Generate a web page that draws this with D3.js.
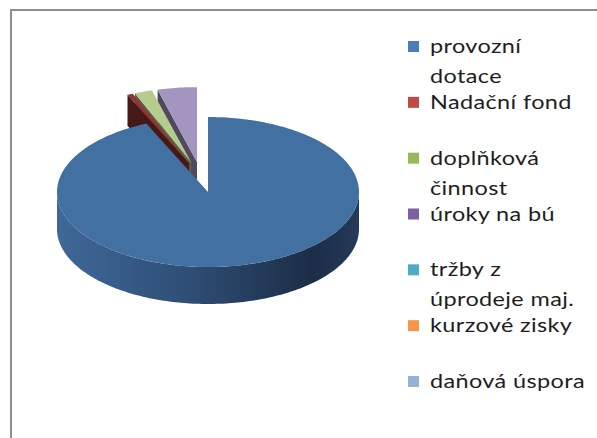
<!DOCTYPE html>
<html lang="en">
<head>
    <meta charset="UTF-8">
    <title>Zdroje příjmů</title>
    <script src="https://d3js.org/d3.v7.min.js"></script>
    <style>
        body { margin: 0; background: #fff; }
    </style>
</head>
<body>
    <script>
        // DATA (in %; the last three are too small to see)
        var categories = ["provozní dotace", "Nadační fond", "doplňková činnost", "úroky na bú",
                          "tržby z úprodeje maj.", "kurzové zisky", "daňová úspora"];
        var values = [93.3, 0.6, 1.9, 4.2, 0, 0, 0];
        // how the legend wraps the labels
        var legendLines = [["provozní", "dotace"], ["Nadační fond"], ["doplňková", "činnost"], ["úroky na bú"],
                           ["tržby z", "úprodeje maj."], ["kurzové zisky"], ["daňová úspora"]];

        // styles
        var legendColors = ["#4a7ebb", "#be4b48", "#98b954", "#7d60a0", "#4bacc6", "#f79646", "#95b3d7"];
        var topColors = ["#4270a1", "#8e3431", "#b6cc8e", "#a395c0", "#5fb3c9", "#f0a060", "#a9bfdc"];
        var exploded = [false, true, true, true, true, true, true];

        var width = 597, height = 438;
        var cx = 208, cy = 192, rx = 151, ry = 75, depth = 37;
        // pulled-out slices: a shared shift plus a radial push;
        // they sit further back, so they look a bit thinner
        var explodeBase = [-7, -15], explodeRadial = 0.2, explodeDepth = 31;

        var svg = d3.select("body").append("svg")
            .attr("width", width)
            .attr("height", height);

        // chart frame (cut by the picture edges on right and bottom)
        svg.append("rect")
            .attr("x", 11).attr("y", 10)
            .attr("width", width + 20).attr("height", height + 20)
            .attr("fill", "none")
            .attr("stroke", "#8e8e8e")
            .attr("stroke-width", 2);

        var defs = svg.append("defs");
        var grad = defs.append("linearGradient")
            .attr("id", "sideGrad")
            .attr("gradientUnits", "userSpaceOnUse")
            .attr("x1", cx - rx).attr("x2", cx + rx)
            .attr("y1", 0).attr("y2", 0);
        grad.selectAll("stop")
            .data([[0, "#3f6898"], [0.45, "#2d4d74"], [0.85, "#1c2d46"], [1, "#25395a"]])
            .enter().append("stop")
            .attr("offset", function(d) { return d[0]; })
            .attr("stop-color", function(d) { return d[1]; });

        var pie = d3.pie().sort(null).startAngle(0).endAngle(2 * Math.PI);
        var arcs = pie(values);

        var line = d3.line();

        // point on the ellipse, angle clockwise from 12 o'clock
        function pt(a, off, z) {
            return [cx + rx * Math.sin(a) + off[0], cy - ry * Math.cos(a) + off[1] + z];
        }

        function arcPoints(a0, a1, off, z) {
            var n = Math.max(2, Math.ceil(Math.abs(a1 - a0) / 0.02));
            return d3.range(n + 1).map(function(i) {
                return pt(a0 + (a1 - a0) * i / n, off, z);
            });
        }

        function center(off, z) {
            return [cx + off[0], cy + off[1] + z];
        }

        var pieG = svg.append("g");

        // small slices first, from the back one forward; the big one last
        var order = d3.range(values.length - 1, 0, -1).concat([0]);

        order.forEach(function(i) {
            var d = arcs[i];
            if (d.endAngle - d.startAngle <= 0) return;
            var a0 = d.startAngle, a1 = d.endAngle, mid = (a0 + a1) / 2;
            var off = exploded[i]
                ? [explodeBase[0] + explodeRadial * rx * Math.sin(mid),
                   explodeBase[1] - explodeRadial * ry * Math.cos(mid)]
                : [0, 0];
            var h = exploded[i] ? explodeDepth : depth;
            var wall = d3.color(topColors[i]).darker(2).formatHex();

            // start wall, visible when it faces the viewer
            if (Math.sin(a0) < -0.001) {
                pieG.append("path")
                    .attr("d", line([center(off, 0), pt(a0, off, 0), pt(a0, off, h), center(off, h)]) + "Z")
                    .attr("fill", wall);
            }
            // end wall
            if (Math.sin(a1) > 0.001) {
                pieG.append("path")
                    .attr("d", line([center(off, 0), pt(a1, off, 0), pt(a1, off, h), center(off, h)]) + "Z")
                    .attr("fill", wall);
            }
            // outer wall, front half only
            var s0 = Math.max(a0, Math.PI / 2), s1 = Math.min(a1, 3 * Math.PI / 2);
            if (s1 > s0) {
                var pts = arcPoints(s0, s1, off, 0).concat(arcPoints(s1, s0, off, h));
                pieG.append("path")
                    .attr("d", line(pts) + "Z")
                    .attr("fill", i === 0 ? "url(#sideGrad)" : wall);
            }
            // top
            pieG.append("path")
                .attr("d", line([center(off, 0)].concat(arcPoints(a0, a1, off, 0))) + "Z")
                .attr("fill", topColors[i]);
        });

        // LEGEND
        var legY = d3.scaleLinear().domain([0, categories.length - 1]).range([46, 381]);
        var lineGap = 30;

        var leg = svg.append("g").attr("class", "legend");
        var items = leg.selectAll("g")
            .data(categories)
            .enter().append("g")
            .attr("transform", function(d, i) { return "translate(0," + legY(i) + ")"; });

        items.append("rect")
            .attr("x", 408).attr("y", -5)
            .attr("width", 11).attr("height", 11)
            .attr("fill", function(d, i) { return legendColors[i]; });

        var texts = items.append("text")
            .attr("x", 430)
            .attr("y", 0)
            .attr("font-family", "Lato, 'Open Sans', sans-serif")
            .attr("font-size", "19px")
            .attr("letter-spacing", "0.3px")
            .attr("fill", "#1e1e1e");

        texts.selectAll("tspan")
            .data(function(d, i) { return legendLines[i]; })
            .enter().append("tspan")
            .attr("x", 430)
            .attr("y", function(d, j) { return j * lineGap + 7; })
            .text(function(d) { return d; });

        // the source picture is stretched sideways; widen the text to match
        var widest = 0;
        texts.each(function() {
            d3.select(this).selectAll("tspan").each(function() {
                widest = Math.max(widest, this.getComputedTextLength());
            });
        });
        var sx = widest > 0 ? 155 / widest : 1;
        texts.attr("transform", "translate(430,0) scale(" + sx + ",1) translate(-430,0)");
    </script>
</body>
</html>
